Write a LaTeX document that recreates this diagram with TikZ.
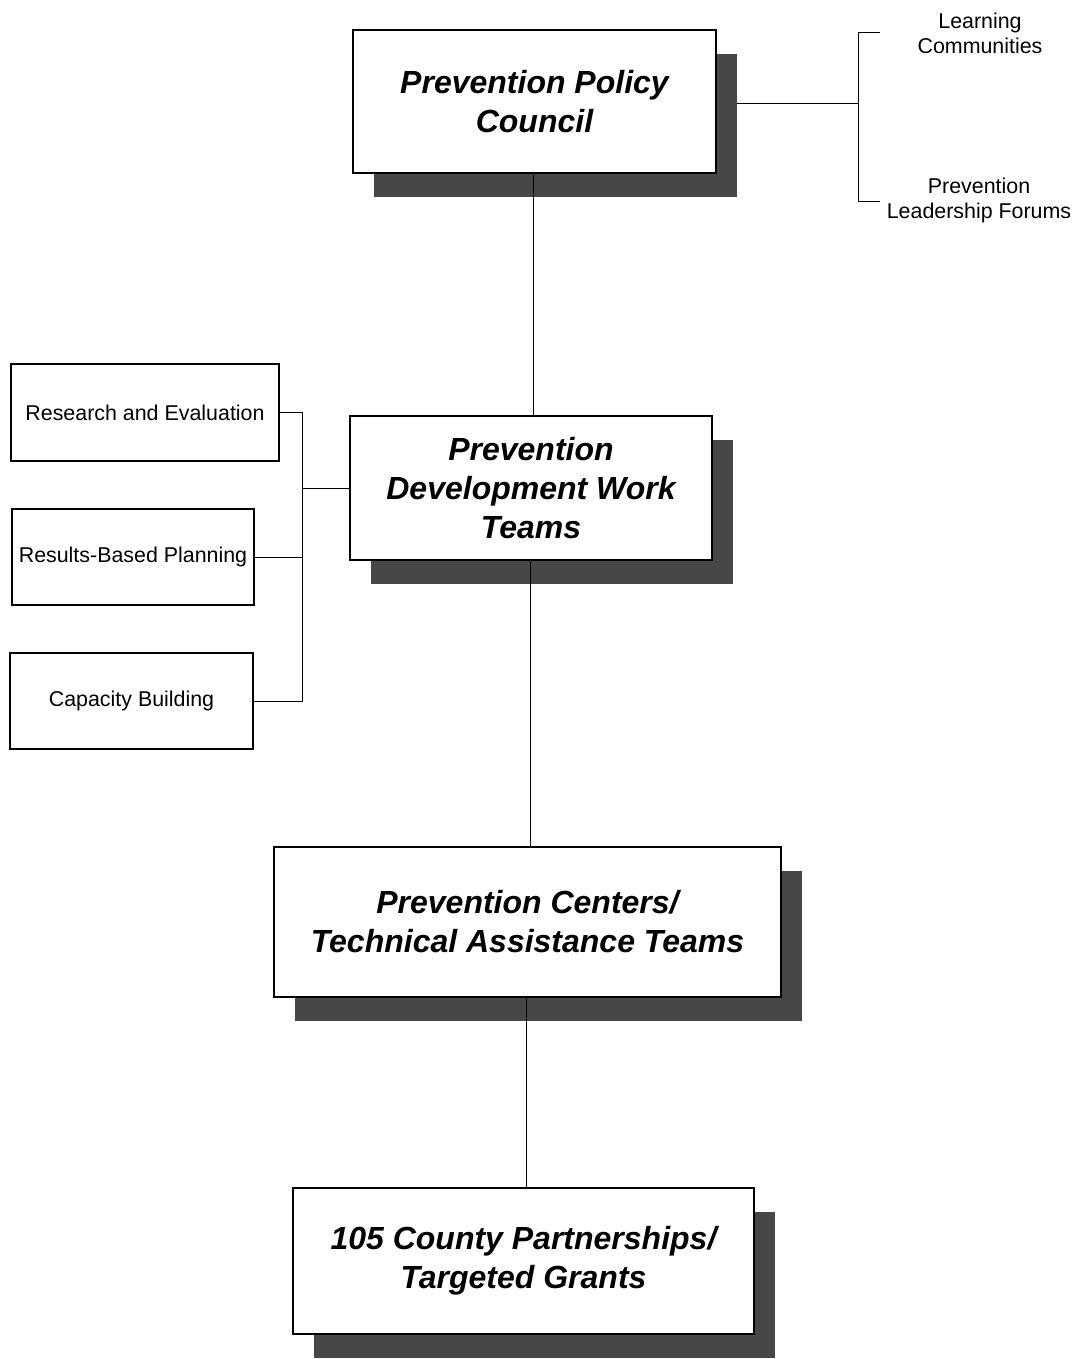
\documentclass[tikz,border=0pt]{standalone}
\usepackage{fontspec}
\setmainfont{Liberation Sans}
\usepackage{tikz}
\usetikzlibrary{shadows, positioning}

\begin{document}
\begin{tikzpicture}[x=0.5pt, y=-0.5pt, line width=0.5pt,
    main/.style = {draw, line width=1pt, fill=white, align=center,
        font=\fontsize{16}{19.5}\selectfont\bfseries\itshape,
        drop shadow={shadow xshift=10.5pt, shadow yshift=-12pt, fill=black!72, opacity=1}},
    side/.style = {draw, line width=0.8pt, fill=white, align=center,
        font=\fontsize{10.7}{12.5}\selectfont},
    note/.style = {align=center, font=\fontsize{10.7}{12.5}\selectfont}]
    \useasboundingbox (0,0) rectangle (1077,1359);

    \node[main, minimum width=181.5pt, minimum height=71.5pt] (policy)  at (534.5,101.5) {Prevention Policy\\Council};
    \node[main, minimum width=181pt, minimum height=72pt]     (teams)   at (531,488)     {Prevention\\Development Work\\Teams};
    \node[main, minimum width=253.5pt, minimum height=75pt]   (centers) at (527.5,922)   {Prevention Centers/\\Technical Assistance Teams};
    \node[main, minimum width=230.5pt, minimum height=73pt]   (county)  at (523.5,1261)  {105 County Partnerships/\\Targeted Grants};

    \node[side, minimum width=134pt, minimum height=48.5pt]   (research) at (145,412.5)  {Research and Evaluation};
    \node[side, minimum width=121pt, minimum height=48pt]     (results)  at (133,557)    {Results-Based Planning};
    \node[side, minimum width=121.5pt, minimum height=48pt]   (capacity) at (131.5,701)  {Capacity Building};

    \node[note] (learning) at (980,33)  {Learning\\Communities};
    \node[note] (forums)   at (979,200) {Prevention\\Leadership Forums};

    \draw ([xshift=-0.75pt]policy.south) -- ([xshift=-0.75pt]policy.south |- teams.north);
    \draw ([xshift=-0.5pt]teams.south) -- ([xshift=-0.5pt]teams.south |- centers.north);
    \draw ([xshift=-0.75pt]centers.south) -- ([xshift=-0.75pt]centers.south |- county.north);

    % side bracket
    \coordinate (join) at (302,488);
    \draw (research.east) -| (join |- capacity.east) -- (capacity.east);
    \draw (results.east) -- (join |- results.east);
    \draw (join) -- (teams.west);

    % top right bracket
    \coordinate (shadowedge) at (737,104);
    \coordinate (fork) at (858,104);
    \coordinate (learntick) at (880,33);
    \coordinate (forumtick) at (880,201);
    \draw (shadowedge) -- (fork);
    \draw (learntick) -- (fork |- learntick) -- (fork |- forumtick) -- (forumtick);
\end{tikzpicture}
\end{document}
